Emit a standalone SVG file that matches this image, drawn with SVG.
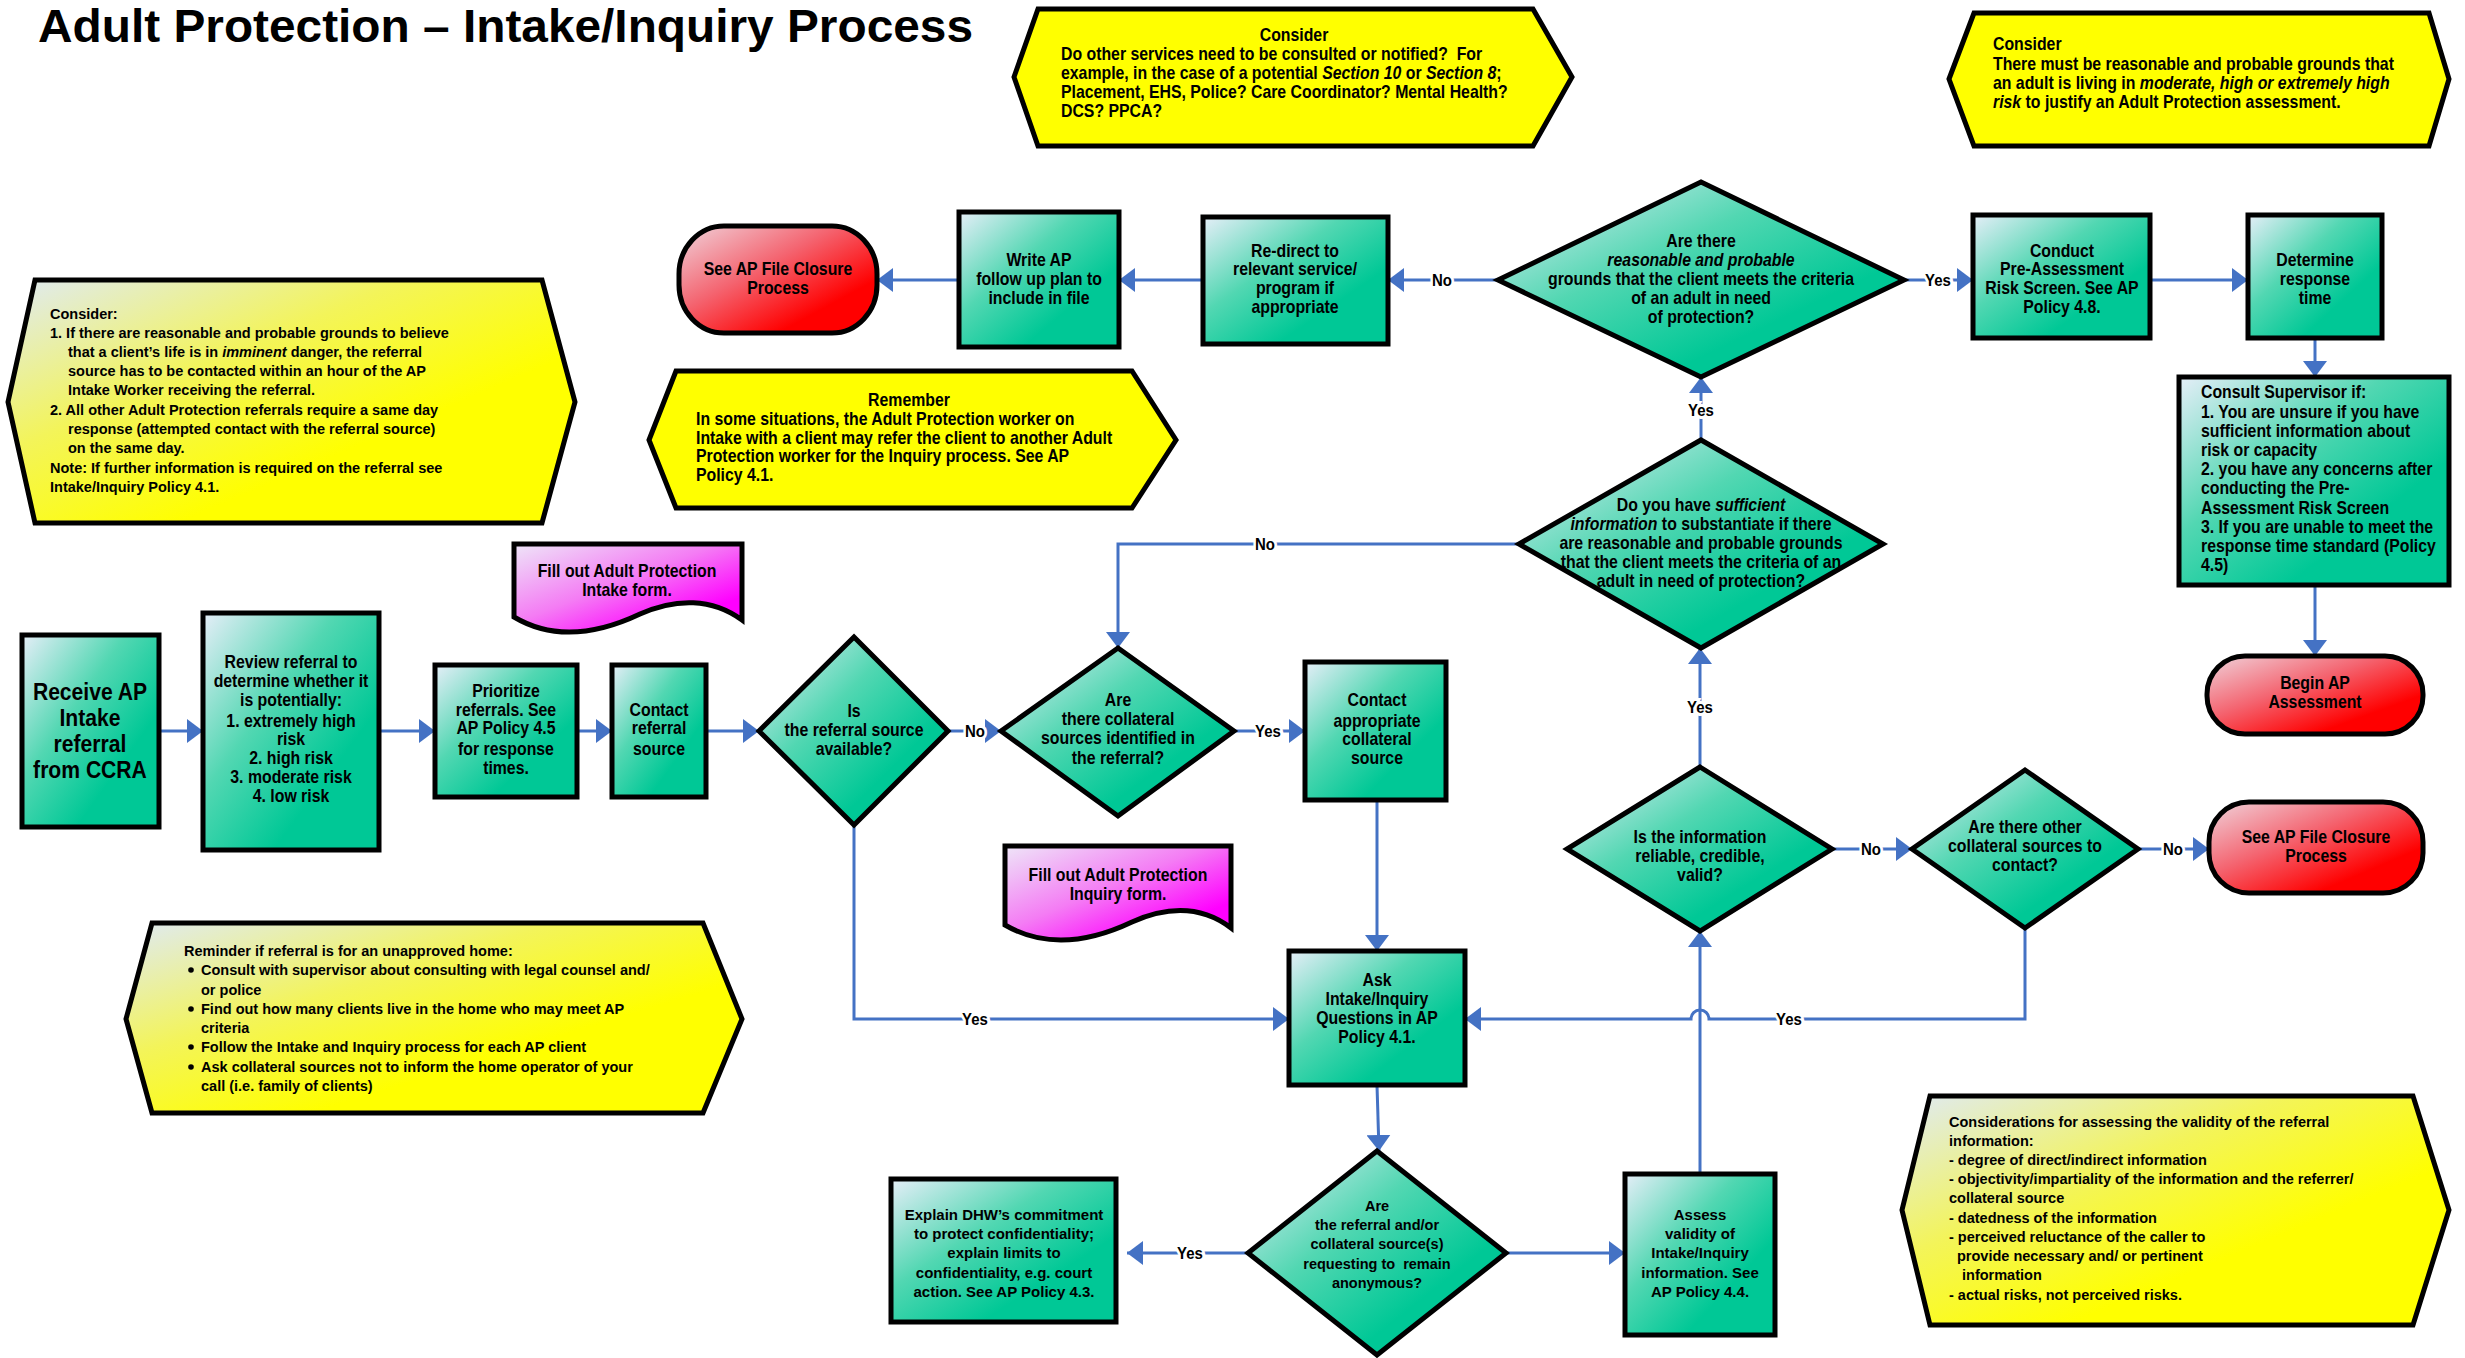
<svg xmlns="http://www.w3.org/2000/svg" width="2465" height="1358" viewBox="0 0 2465 1358">
<defs>
<linearGradient id="gG" x1="0" y1="0" x2="1" y2="1">
<stop offset="0" stop-color="#e6eef8"/><stop offset="0.38" stop-color="#52d7b2"/><stop offset="0.7" stop-color="#00c896"/><stop offset="1" stop-color="#00c896"/>
</linearGradient>
<linearGradient id="gR" x1="0" y1="0" x2="1" y2="1">
<stop offset="0" stop-color="#f0d4dc"/><stop offset="0.4" stop-color="#f46470"/><stop offset="0.75" stop-color="#ff0000"/><stop offset="1" stop-color="#ff0000"/>
</linearGradient>
<linearGradient id="gM" x1="0" y1="0" x2="1" y2="1">
<stop offset="0" stop-color="#eee6f8"/><stop offset="0.45" stop-color="#f47cf4"/><stop offset="0.8" stop-color="#ff00ff"/><stop offset="1" stop-color="#ff00ff"/>
</linearGradient>
<linearGradient id="gY" x1="0" y1="0" x2="1" y2="1">
<stop offset="0" stop-color="#dfeaf4"/><stop offset="0.35" stop-color="#f3f45a"/><stop offset="0.65" stop-color="#ffff00"/><stop offset="1" stop-color="#ffff00"/>
</linearGradient>
<marker id="ah" markerUnits="userSpaceOnUse" markerWidth="17" markerHeight="24" refX="16" refY="12" orient="auto">
<path d="M0,0 L16,12 L0,24 z" fill="#4472C4"/>
</marker>
<style>
.n{fill:url(#gG);stroke:#000;stroke-width:5;stroke-linejoin:miter}
.r{fill:url(#gR);stroke:#000;stroke-width:5}
.m{fill:url(#gM);stroke:#000;stroke-width:5}
.y{fill:#ffff00;stroke:#000;stroke-width:5}
.yg{fill:url(#gY);stroke:#000;stroke-width:5}
.t{font-family:"Liberation Sans Narrow","Arial Narrow","Liberation Sans",sans-serif;font-weight:bold;font-size:18px;fill:#000;text-anchor:middle;transform-box:fill-box;transform-origin:center;transform:scaleX(0.88)}
.tl{font-family:"Liberation Sans Narrow","Arial Narrow","Liberation Sans",sans-serif;font-weight:bold;font-size:18px;fill:#000;transform-box:fill-box;transform-origin:left center;transform:scaleX(0.88)}
.tw{font-family:"Liberation Sans",Arial,sans-serif;font-weight:bold;font-size:14.5px;fill:#000}
.twc{font-family:"Liberation Sans",Arial,sans-serif;font-weight:bold;font-size:14.5px;fill:#000;text-anchor:middle}
.c{stroke:#4472C4;stroke-width:3;fill:none;marker-end:url(#ah)}
.lb{font-family:"Liberation Sans Narrow","Arial Narrow","Liberation Sans",sans-serif;font-weight:bold;font-size:17px;fill:#000;text-anchor:middle;dominant-baseline:central;paint-order:stroke;stroke:#fff;stroke-width:6;transform-box:fill-box;transform-origin:center;transform:scaleX(0.88)}
</style>
</defs>
<rect width="2465" height="1358" fill="#fff"/>

<text x="38" y="42" font-family="'Liberation Sans Narrow','Liberation Sans',sans-serif" font-weight="bold" font-size="46" textLength="935" lengthAdjust="spacingAndGlyphs">Adult Protection – Intake/Inquiry Process</text>

<g id="connectors">
<path class="c" d="M159,731 H203"/>
<path class="c" d="M379,731 H435"/>
<path class="c" d="M577,731 H612"/>
<path class="c" d="M706,731 H759"/>
<path class="c" d="M948,731 H1001"/>
<path class="c" d="M1234,731 H1305"/>
<path class="c" d="M1377,800 V951"/>
<path class="c" d="M854,825 V1019 H1289"/>
<path class="c" d="M1377,1085 L1379,1151"/>
<path class="c" d="M1248,1253 H1127"/>
<path class="c" d="M1506,1253 H1625"/>
<path class="c" d="M1700,1174 V931"/>
<path class="c" d="M1700,767 V648"/>
<path class="c" d="M1701,440 V377"/>
<path class="c" d="M1519,544 H1118 V648"/>
<path class="c" d="M1832,849 H1912"/>
<path class="c" d="M2138,849 H2209"/>
<path class="c" d="M2025,928 V1019 H1709 A9,9 0 0 0 1691,1019 H1465"/>
<path class="c" d="M1498,280 H1388"/>
<path class="c" d="M1203,280 H1119"/>
<path class="c" d="M959,280 H877"/>
<path class="c" d="M1904,280 H1973"/>
<path class="c" d="M2150,280 H2248"/>
<path class="c" d="M2315,338 V377"/>
<path class="c" d="M2315,585 V656"/>
<text class="lb" x="975" y="731">No</text>
<text class="lb" x="1268" y="731">Yes</text>
<text class="lb" x="975" y="1019">Yes</text>
<text class="lb" x="1190" y="1253">Yes</text>
<text class="lb" x="1265" y="544">No</text>
<text class="lb" x="1700" y="707">Yes</text>
<text class="lb" x="1701" y="410">Yes</text>
<text class="lb" x="1871" y="849">No</text>
<text class="lb" x="2173" y="849">No</text>
<text class="lb" x="1789" y="1019">Yes</text>
<text class="lb" x="1442" y="280">No</text>
<text class="lb" x="1938" y="280">Yes</text>
</g>

<g id="note-consider-services">
<polygon class="y" points="1014,77 1038,9 1533,9 1572,77 1533,146 1038,146"/>
<text class="t" x="1294" y="41">Consider</text>
<text class="tl"><tspan x="1061" y="60">Do other services need to be consulted or notified?&#160; For</tspan><tspan x="1061" y="79">example, in the case of a potential <tspan font-style="italic">Section 10</tspan> or <tspan font-style="italic">Section 8</tspan>;</tspan><tspan x="1061" y="98">Placement, EHS, Police? Care Coordinator? Mental Health?</tspan><tspan x="1061" y="117">DCS? PPCA?</tspan></text>
</g>

<g id="note-consider-grounds">
<polygon class="y" points="1949,79 1974,13 2429,13 2449,79 2429,146 1974,146"/>
<text class="tl"><tspan x="1993" y="50">Consider</tspan><tspan x="1993" y="70">There must be reasonable and probable grounds that</tspan><tspan x="1993" y="89">an adult is living in <tspan font-style="italic">moderate, high or extremely high</tspan></tspan><tspan x="1993" y="108"><tspan font-style="italic">risk</tspan> to justify an Adult Protection assessment.</tspan></text>
</g>

<g id="note-consider-imminent">
<polygon class="yg" points="8,402 35,280 542,280 575,402 542,523 35,523"/>
<text class="tw"><tspan x="50" y="319">Consider:</tspan><tspan x="50" y="338">1. If there are reasonable and probable grounds to believe</tspan><tspan x="68" y="357">that a client’s life is in <tspan font-style="italic">imminent</tspan> danger, the referral</tspan><tspan x="68" y="376">source has to be contacted within an hour of the AP</tspan><tspan x="68" y="395">Intake Worker receiving the referral.</tspan><tspan x="50" y="415">2. All other Adult Protection referrals require a same day</tspan><tspan x="68" y="434">response (attempted contact with the referral source)</tspan><tspan x="68" y="453">on the same day.</tspan><tspan x="50" y="473">Note: If further information is required on the referral see</tspan><tspan x="50" y="492">Intake/Inquiry Policy 4.1.</tspan></text>
</g>

<g id="note-remember">
<polygon class="y" points="649,440 676,371 1132,371 1176,440 1132,508 676,508"/>
<text class="t" x="909" y="406">Remember</text>
<text class="tl"><tspan x="696" y="425">In some situations, the Adult Protection worker on</tspan><tspan x="696" y="444">Intake with a client may refer the client to another Adult</tspan><tspan x="696" y="462">Protection worker for the Inquiry process. See AP</tspan><tspan x="696" y="481">Policy 4.1.</tspan></text>
</g>

<g id="note-unapproved-home">
<polygon class="yg" points="126,1019 152,923 703,923 742,1019 703,1113 152,1113"/>
<text class="tw"><tspan x="184" y="956">Reminder if referral is for an unapproved home:</tspan><tspan x="201" y="975">Consult with supervisor about consulting with legal counsel and/</tspan><tspan x="201" y="995">or police</tspan><tspan x="201" y="1014">Find out how many clients live in the home who may meet AP</tspan><tspan x="201" y="1033">criteria</tspan><tspan x="201" y="1052">Follow the Intake and Inquiry process for each AP client</tspan><tspan x="201" y="1072">Ask collateral sources not to inform the home operator of your</tspan><tspan x="201" y="1091">call (i.e. family of clients)</tspan></text>
<circle cx="191" cy="970" r="2.8"/><circle cx="191" cy="1009" r="2.8"/><circle cx="191" cy="1047" r="2.8"/><circle cx="191" cy="1067" r="2.8"/>
</g>

<g id="note-validity">
<polygon class="yg" points="1902,1210 1930,1096 2413,1096 2449,1210 2413,1325 1930,1325"/>
<text class="tw"><tspan x="1949" y="1127">Considerations for assessing the validity of the referral</tspan><tspan x="1949" y="1146">information:</tspan><tspan x="1949" y="1165">- degree of direct/indirect information</tspan><tspan x="1949" y="1184">- objectivity/impartiality of the information and the referrer/</tspan><tspan x="1949" y="1203">collateral source</tspan><tspan x="1949" y="1223">- datedness of the information</tspan><tspan x="1949" y="1242">- perceived reluctance of the caller to</tspan><tspan x="1957" y="1261">provide necessary and/ or pertinent</tspan><tspan x="1962" y="1280">information</tspan><tspan x="1949" y="1300">- actual risks, not perceived risks.</tspan></text>
</g>

<g id="receive">
<rect class="n" x="22" y="635" width="137" height="192"/>
<text class="t" style="font-size:24px"><tspan x="90" y="700">Receive AP</tspan><tspan x="90" y="726">Intake</tspan><tspan x="90" y="752">referral</tspan><tspan x="90" y="778">from CCRA</tspan></text>
</g>

<g id="review">
<rect class="n" x="203" y="613" width="176" height="237"/>
<text class="t"><tspan x="291" y="668">Review referral to</tspan><tspan x="291" y="687">determine whether it</tspan><tspan x="291" y="706">is potentially:</tspan><tspan x="291" y="727">1. extremely high</tspan><tspan x="291" y="745">risk</tspan><tspan x="291" y="764">2. high risk</tspan><tspan x="291" y="783">3. moderate risk</tspan><tspan x="291" y="802">4. low risk</tspan></text>
</g>

<g id="prioritize">
<rect class="n" x="435" y="665" width="142" height="132"/>
<text class="t"><tspan x="506" y="697">Prioritize</tspan><tspan x="506" y="716">referrals. See</tspan><tspan x="506" y="734">AP Policy 4.5</tspan><tspan x="506" y="755">for response</tspan><tspan x="506" y="774">times.</tspan></text>
</g>

<g id="contact-referral">
<rect class="n" x="612" y="665" width="94" height="132"/>
<text class="t"><tspan x="659" y="716">Contact</tspan><tspan x="659" y="734">referral</tspan><tspan x="659" y="755">source</tspan></text>
</g>

<g id="intake-form">
<path class="m" d="M514,544 H742 V620 C712,598 676,598 640,614 C602,632 556,642 514,617 Z"/>
<text class="t"><tspan x="627" y="577">Fill out Adult Protection</tspan><tspan x="627" y="596">Intake form.</tspan></text>
</g>

<g id="referral-available">
<polygon class="n" points="854,637 948,731 854,825 759,731"/>
<text class="t"><tspan x="854" y="717">Is</tspan><tspan x="854" y="736">the referral source</tspan><tspan x="854" y="755">available?</tspan></text>
</g>

<g id="collateral-identified">
<polygon class="n" points="1118,648 1234,731 1118,816 1001,731"/>
<text class="t"><tspan x="1118" y="706">Are</tspan><tspan x="1118" y="725">there collateral</tspan><tspan x="1118" y="744">sources identified in</tspan><tspan x="1118" y="764">the referral?</tspan></text>
</g>

<g id="contact-collateral">
<rect class="n" x="1305" y="662" width="141" height="138"/>
<text class="t"><tspan x="1377" y="706">Contact</tspan><tspan x="1377" y="727">appropriate</tspan><tspan x="1377" y="745">collateral</tspan><tspan x="1377" y="764">source</tspan></text>
</g>

<g id="inquiry-form">
<path class="m" d="M1005,846 H1231 V928 C1202,906 1168,906 1132,922 C1094,940 1048,950 1005,925 Z"/>
<text class="t"><tspan x="1118" y="881">Fill out Adult Protection</tspan><tspan x="1118" y="900">Inquiry form.</tspan></text>
</g>

<g id="ask-questions">
<rect class="n" x="1289" y="951" width="176" height="134"/>
<text class="t"><tspan x="1377" y="986">Ask</tspan><tspan x="1377" y="1005">Intake/Inquiry</tspan><tspan x="1377" y="1024">Questions in AP</tspan><tspan x="1377" y="1043">Policy 4.1.</tspan></text>
</g>

<g id="anonymous">
<polygon class="n" points="1377,1151 1506,1253 1377,1355 1248,1253"/>
<text class="twc"><tspan x="1377" y="1211">Are</tspan><tspan x="1377" y="1230">the referral and/or</tspan><tspan x="1377" y="1249">collateral source(s)</tspan><tspan x="1377" y="1269">requesting to&#160; remain</tspan><tspan x="1377" y="1288">anonymous?</tspan></text>
</g>

<g id="explain-confidentiality">
<rect class="n" x="891" y="1179" width="225" height="143"/>
<text class="twc" style="font-size:15px"><tspan x="1004" y="1220">Explain DHW’s commitment</tspan><tspan x="1004" y="1239">to protect confidentiality;</tspan><tspan x="1004" y="1258">explain limits to</tspan><tspan x="1004" y="1278">confidentiality, e.g. court</tspan><tspan x="1004" y="1297">action. See AP Policy 4.3.</tspan></text>
</g>

<g id="assess-validity">
<rect class="n" x="1625" y="1174" width="150" height="161"/>
<text class="twc" style="font-size:15px"><tspan x="1700" y="1220">Assess</tspan><tspan x="1700" y="1239">validity of</tspan><tspan x="1700" y="1258">Intake/Inquiry</tspan><tspan x="1700" y="1278">information. See</tspan><tspan x="1700" y="1297">AP Policy 4.4.</tspan></text>
</g>

<g id="reliable">
<polygon class="n" points="1700,767 1832,849 1700,931 1567,849"/>
<text class="t"><tspan x="1700" y="843">Is the information</tspan><tspan x="1700" y="862">reliable, credible,</tspan><tspan x="1700" y="881">valid?</tspan></text>
</g>

<g id="other-collateral">
<polygon class="n" points="2025,770 2138,849 2025,928 1912,849"/>
<text class="t"><tspan x="2025" y="833">Are there other</tspan><tspan x="2025" y="852">collateral sources to</tspan><tspan x="2025" y="871">contact?</tspan></text>
</g>

<g id="closure-right">
<rect class="r" x="2209" y="802" width="214" height="91" rx="40" ry="40"/>
<text class="t"><tspan x="2316" y="843">See AP File Closure</tspan><tspan x="2316" y="862">Process</tspan></text>
</g>

<g id="sufficient-info">
<polygon class="n" points="1701,440 1883,544 1701,648 1519,544"/>
<text class="t"><tspan x="1701" y="511">Do you have <tspan font-style="italic">sufficient</tspan></tspan><tspan x="1701" y="530"><tspan font-style="italic">information</tspan> to substantiate if there</tspan><tspan x="1701" y="549">are reasonable and probable grounds</tspan><tspan x="1701" y="568">that the client meets the criteria of an</tspan><tspan x="1701" y="587">adult in need of protection?</tspan></text>
</g>

<g id="reasonable-grounds">
<polygon class="n" points="1701,182 1904,280 1701,377 1498,280"/>
<text class="t"><tspan x="1701" y="247">Are there</tspan><tspan x="1701" y="266" font-style="italic">reasonable and probable</tspan><tspan x="1701" y="285">grounds that the client meets the criteria</tspan><tspan x="1701" y="304">of an adult in need</tspan><tspan x="1701" y="323">of protection?</tspan></text>
</g>

<g id="redirect">
<rect class="n" x="1203" y="217" width="185" height="127"/>
<text class="t"><tspan x="1295" y="257">Re-direct to</tspan><tspan x="1295" y="275">relevant service/</tspan><tspan x="1295" y="294">program if</tspan><tspan x="1295" y="313">appropriate</tspan></text>
</g>

<g id="write-plan">
<rect class="n" x="959" y="212" width="160" height="135"/>
<text class="t"><tspan x="1039" y="266">Write AP</tspan><tspan x="1039" y="285">follow up plan to</tspan><tspan x="1039" y="304">include in file</tspan></text>
</g>

<g id="closure-left">
<rect class="r" x="679" y="226" width="198" height="107" rx="45" ry="48"/>
<text class="t"><tspan x="778" y="275">See AP File Closure</tspan><tspan x="778" y="294">Process</tspan></text>
</g>

<g id="pre-assessment">
<rect class="n" x="1973" y="215" width="177" height="123"/>
<text class="t"><tspan x="2062" y="257">Conduct</tspan><tspan x="2062" y="275">Pre-Assessment</tspan><tspan x="2062" y="294">Risk Screen. See AP</tspan><tspan x="2062" y="313">Policy 4.8.</tspan></text>
</g>

<g id="response-time">
<rect class="n" x="2248" y="215" width="134" height="123"/>
<text class="t"><tspan x="2315" y="266">Determine</tspan><tspan x="2315" y="285">response</tspan><tspan x="2315" y="304">time</tspan></text>
</g>

<g id="consult-supervisor">
<rect class="n" x="2179" y="377" width="270" height="208"/>
<text class="tl"><tspan x="2201" y="398">Consult Supervisor if:</tspan><tspan x="2201" y="418">1. You are unsure if you have</tspan><tspan x="2201" y="437">sufficient information about</tspan><tspan x="2201" y="456">risk or capacity</tspan><tspan x="2201" y="475">2. you have any concerns after</tspan><tspan x="2201" y="494">conducting the Pre-</tspan><tspan x="2201" y="514">Assessment Risk Screen</tspan><tspan x="2201" y="533">3. If you are unable to meet the</tspan><tspan x="2201" y="552">response time standard (Policy</tspan><tspan x="2201" y="571">4.5)</tspan></text>
</g>

<g id="begin-assessment">
<rect class="r" x="2207" y="656" width="216" height="78" rx="38" ry="38"/>
<text class="t"><tspan x="2315" y="689">Begin AP</tspan><tspan x="2315" y="708">Assessment</tspan></text>
</g>
</svg>
